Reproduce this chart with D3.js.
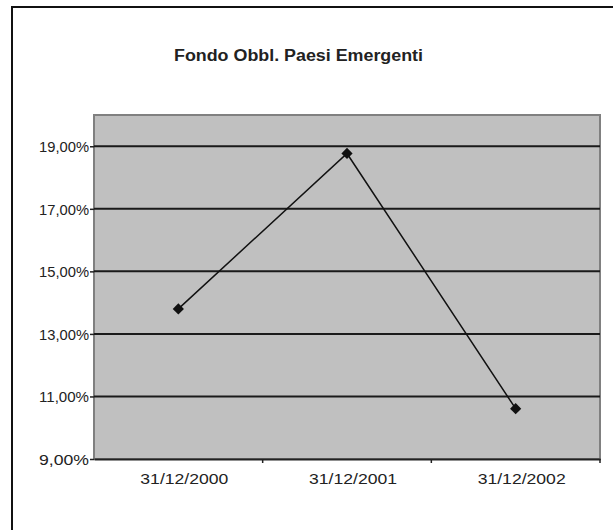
<!DOCTYPE html>
<html>
<head>
<meta charset="utf-8">
<script src="https://cdn.jsdelivr.net/npm/d3@7"></script>
<style>
  html, body { margin: 0; padding: 0; background: #fff; overflow: hidden; }
  svg { display: block; overflow: hidden; }
  text { font-family: "Liberation Sans", Arial, sans-serif; fill: #222; }
</style>
</head>
<body>
<svg id="chart" width="613" height="530"></svg>
<script>
const title = "Fondo Obbl. Paesi Emergenti";
const categories = ["31/12/2000", "31/12/2001", "31/12/2002"];
const values = [13.80, 18.77, 10.61];
const yTicks = [9, 11, 13, 15, 17, 19];
const yDomain = [9, 20];

const W = 613, H = 530;
const plot = { left: 94, top: 115, right: 600, bottom: 459 };

const svg = d3.select("#chart");

// Outer chart frame (only top and left edges are visible)
svg.append("path")
  .attr("d", `M12,${H + 5} V7 H${W + 5}`)
  .attr("fill", "none")
  .attr("stroke", "#111").attr("stroke-width", 2);

const locale = d3.formatLocale({ decimal: ",", thousands: ".", grouping: [3], currency: ["", "€"] });
const fmt = v => locale.format(".2f")(v) + "%";

const x = d3.scaleBand().domain(categories).range([plot.left, plot.right]).padding(0);
const y = d3.scaleLinear().domain(yDomain).range([plot.bottom, plot.top]);

// Plot area
svg.append("rect")
  .attr("x", plot.left).attr("y", plot.top)
  .attr("width", plot.right - plot.left).attr("height", plot.bottom - plot.top)
  .attr("fill", "#c0c0c0")
  .attr("stroke", "#808080").attr("stroke-width", 2);

// Gridlines
svg.append("g").selectAll("line")
  .data(yTicks.filter(t => t !== yDomain[0]))
  .join("line")
  .attr("x1", plot.left).attr("x2", plot.right)
  .attr("y1", d => y(d)).attr("y2", d => y(d))
  .attr("stroke", "#1a1a1a").attr("stroke-width", 2);

// Y axis
const yAxis = svg.append("g")
  .attr("transform", `translate(${plot.left},0)`)
  .call(d3.axisLeft(y).tickValues(yTicks).tickSize(4).tickPadding(1).tickFormat(fmt));
yAxis.select(".domain").remove();
yAxis.selectAll(".tick line").attr("stroke", "#222").attr("stroke-width", 1.5);
yAxis.selectAll("text").style("font-size", "15px").attr("fill", "#333").attr("dy", "0.35em")
  .attr("textLength", 50).attr("lengthAdjust", "spacingAndGlyphs");

// X axis
const xAxis = svg.append("g")
  .attr("transform", `translate(0,${plot.bottom})`)
  .call(d3.axisBottom(x).tickSize(0).tickPadding(0));
xAxis.select(".domain").attr("stroke", "#222").attr("stroke-width", 2);
xAxis.selectAll(".tick text")
  .style("font-size", "15px").attr("fill", "#333")
  .attr("x", 6).attr("y", 14).attr("dy", "0.71em")
  .attr("textLength", 88).attr("lengthAdjust", "spacingAndGlyphs");
// tick marks at category boundaries
svg.append("g").selectAll("line")
  .data(categories)
  .join("line")
  .attr("x1", d => x(d) + x.bandwidth()).attr("x2", d => x(d) + x.bandwidth())
  .attr("y1", plot.bottom).attr("y2", plot.bottom + 4)
  .attr("stroke", "#222").attr("stroke-width", 1.5);

// Series line
const pts = categories.map((c, i) => [x(c) + x.bandwidth() / 2, y(values[i])]);
svg.append("path")
  .attr("d", d3.line()(pts))
  .attr("fill", "none").attr("stroke", "#111").attr("stroke-width", 1.5);

// Diamond markers
svg.append("g").selectAll("path")
  .data(pts)
  .join("path")
  .attr("transform", d => `translate(${d[0]},${d[1]})`)
  .attr("d", d3.symbol(d3.symbolDiamond2, 80))
  .attr("fill", "#111");

// Title
svg.append("text")
  .attr("x", 298.5).attr("y", 61)
  .attr("text-anchor", "middle")
  .style("font-size", "16px").style("font-weight", "bold")
  .attr("fill", "#111")
  .attr("textLength", 249).attr("lengthAdjust", "spacingAndGlyphs")
  .text(title);
</script>
</body>
</html>
